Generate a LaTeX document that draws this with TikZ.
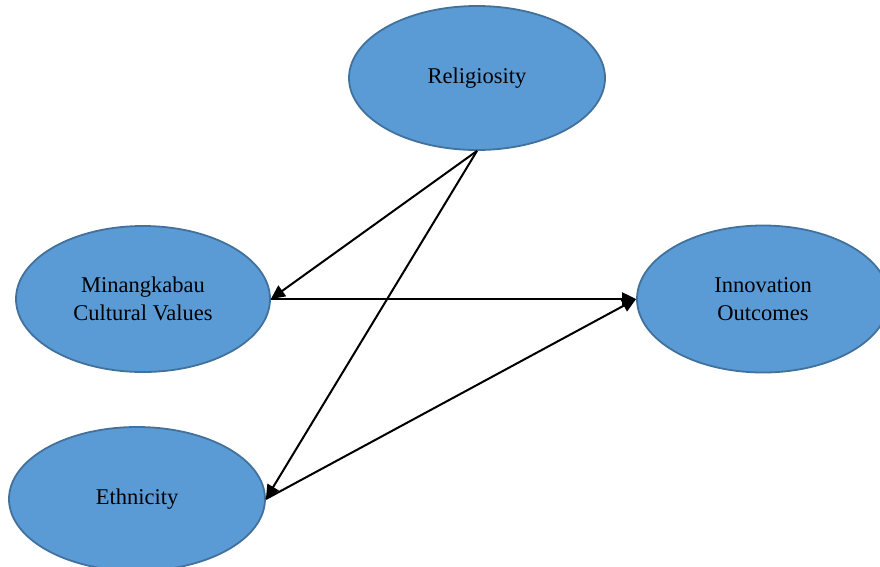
\documentclass[tikz,border=0pt]{standalone}
\usepackage{fontspec}
\setmainfont{Liberation Serif}
\usetikzlibrary{shapes.geometric,arrows.meta}
\definecolor{fillblue}{HTML}{5B9BD5}
\definecolor{edgeblue}{HTML}{41719C}
\begin{document}
\begin{tikzpicture}[x=1pt,y=-1pt,
  construct/.style={ellipse,draw=edgeblue,line width=1.8pt,fill=fillblue,inner sep=0pt,
    align=center,font=\fontsize{22.5}{28}\selectfont,text=black},
  link/.style={line width=2pt,-{Triangle[length=14pt,width=13pt]}}]
\useasboundingbox (0,0) rectangle (880,566);
\clip (0,0) rectangle (880,566);
\node[construct,minimum width=256pt,minimum height=144pt] (rel) at (477,78) {Religiosity};
\node[construct,minimum width=254pt,minimum height=146pt] (min) at (143,299) {Minangkabau\\Cultural Values};
\node[construct,minimum width=252pt,minimum height=147pt] (inn) at (763,299) {Innovation\\Outcomes};
\node[construct,minimum width=256pt,minimum height=144pt] (eth) at (137,499) {Ethnicity};
\draw[link] (rel.south) -- (min.east);
\draw[link] (rel.south) -- (eth.east);
\draw[link] (min.east) -- (inn.west);
\draw[link] (eth.east) -- (inn.west);
\end{tikzpicture}
\end{document}
